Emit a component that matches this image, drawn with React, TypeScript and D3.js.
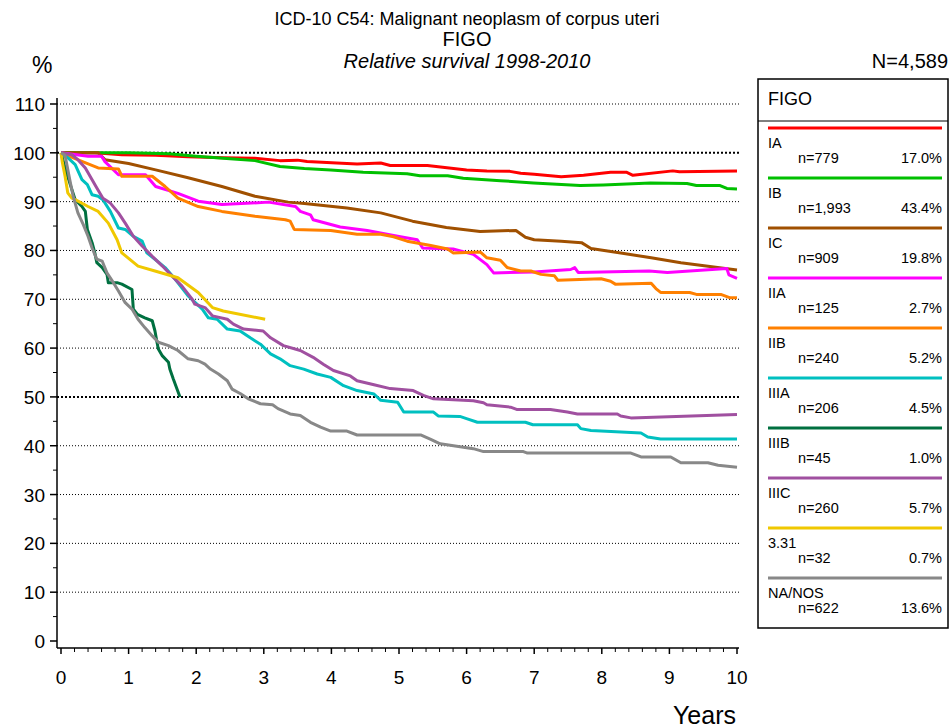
import React from "react";
import * as d3 from "d3";

type Pt = [number, number];

const seriesNames = ["IA", "IB", "IC", "IIA", "IIB", "IIIA", "IIIB", "IIIC", "3.31", "NA/NOS"];
const seriesN = ["n=779", "n=1,993", "n=909", "n=125", "n=240", "n=206", "n=45", "n=260", "n=32", "n=622"];
const seriesPct = ["17.0%", "43.4%", "19.8%", "2.7%", "5.2%", "4.5%", "1.0%", "5.7%", "0.7%", "13.6%"];
const seriesColors = ["#ff0000", "#00c000", "#a05000", "#ff00ff", "#ff8000", "#00c0c0", "#007040", "#a050a0", "#f0c800", "#888888"];

const dataIA: Pt[] = [[0,100],[0.5,100],[0.9,99.6],[1.4,99.5],[1.88,99.2],[2.4,99.0],[2.87,98.9],[3.24,98.4],[3.5,98.5],[3.64,98.2],[4.08,97.9],[4.38,97.7],[4.73,97.9],[4.87,97.4],[5.42,97.4],[6.0,96.5],[6.3,96.3],[6.64,96.2],[6.8,95.8],[7.0,95.6],[7.4,95.1],[7.73,95.4],[8.13,96.0],[8.37,96.0],[8.46,95.4],[9.05,96.3],[9.15,96.1],[10,96.3]];
const dataIB: Pt[] = [[0,100],[1.0,100],[1.6,99.8],[2.0,99.3],[2.5,98.8],[2.87,98.4],[3.24,97.2],[3.6,96.8],[3.99,96.5],[4.47,96.0],[5.12,95.7],[5.31,95.3],[5.72,95.3],[5.95,94.8],[6.5,94.3],[6.99,93.8],[7.68,93.3],[8.02,93.4],[8.72,93.8],[9.26,93.7],[9.4,93.3],[9.75,93.3],[9.85,92.7],[10,92.6]];
const dataIC: Pt[] = [[0,100],[0.55,100],[0.65,98.6],[1.0,97.8],[1.4,96.5],[1.88,94.9],[2.38,93.1],[2.87,91.1],[3.36,89.9],[3.6,89.6],[4.23,88.7],[4.73,87.7],[5.2,86.0],[5.7,84.7],[6.2,83.9],[6.73,84.1],[6.87,82.7],[7.0,82.2],[7.4,81.9],[7.7,81.6],[7.84,80.4],[8.28,79.5],[8.73,78.5],[9.17,77.5],[9.6,76.7],[10,76.0]];
const dataIIA: Pt[] = [[0,100],[0.4,99.3],[0.6,99.3],[0.65,98.2],[0.85,95.5],[1.25,95.5],[1.4,93.1],[1.73,91.7],[2.03,90.1],[2.38,89.4],[3.07,89.9],[3.47,89.0],[3.54,88.0],[3.69,87.3],[3.73,86.3],[4.13,84.8],[4.53,84.1],[4.98,82.9],[5.27,82.2],[5.35,80.5],[5.8,80.3],[6.1,79.2],[6.3,77.1],[6.4,75.4],[7.0,75.6],[7.54,76.1],[7.6,76.5],[7.65,75.5],[8.7,75.8],[8.97,75.5],[9.85,76.3],[9.88,75.0],[10,74.3]];
const dataIIB: Pt[] = [[0,100],[0.3,98.3],[0.55,96.9],[0.85,96.7],[0.9,95.2],[1.35,95.2],[1.54,93.1],[1.73,90.7],[2.03,89.0],[2.38,88.0],[2.87,87.0],[3.32,86.3],[3.39,86.0],[3.45,84.3],[3.99,84.1],[4.38,83.3],[4.73,83.3],[4.92,82.8],[5.12,81.9],[5.47,81.0],[5.72,80.3],[5.8,79.5],[6.2,79.7],[6.3,78.5],[6.5,78.0],[6.6,76.5],[6.8,75.8],[6.95,75.8],[7.1,75.1],[7.3,74.8],[7.35,73.9],[7.99,74.2],[8.13,73.7],[8.2,73.1],[8.73,73.3],[8.8,72.2],[8.87,71.4],[9.3,71.4],[9.4,71.0],[9.76,71.0],[9.9,70.3],[10,70.3]];
const dataIIIA: Pt[] = [[0,100],[0.1,99],[0.21,97.6],[0.31,94.5],[0.39,93.5],[0.46,91.4],[0.55,91.1],[0.62,90.4],[0.73,88.0],[0.85,84.6],[0.95,84.3],[1.07,82.9],[1.2,81.9],[1.27,79.5],[1.39,78.2],[1.54,76.5],[1.69,74.1],[1.88,70.7],[2.09,68.0],[2.18,66.2],[2.31,65.9],[2.46,63.9],[2.65,63.5],[2.8,62.1],[2.95,60.8],[3.1,58.8],[3.24,57.8],[3.39,56.4],[3.59,55.7],[3.79,54.7],[3.99,54.0],[4.18,52.3],[4.38,51.3],[4.63,50.6],[4.73,49.3],[4.98,48.9],[5.07,46.9],[5.51,46.9],[5.58,46.1],[5.9,46.0],[6.01,45.5],[6.16,44.8],[6.87,44.8],[6.98,44.3],[7.64,44.3],[7.69,43.5],[7.84,43.1],[8.58,42.6],[8.68,41.8],[8.87,41.4],[10,41.4]];
const dataIIIB: Pt[] = [[0,100],[0.06,96.9],[0.13,93.8],[0.21,90.4],[0.31,89.0],[0.36,88.0],[0.39,84.3],[0.46,81.6],[0.5,79.5],[0.53,77.5],[0.61,76.5],[0.68,75.1],[0.7,73.4],[0.83,73.4],[0.9,73.1],[1.05,72.0],[1.07,68.0],[1.13,66.9],[1.24,66.2],[1.35,65.6],[1.39,63.5],[1.42,61.2],[1.44,59.8],[1.5,58.4],[1.59,57.1],[1.61,55.7],[1.66,53.7],[1.76,50.0]];
const dataIIIC: Pt[] = [[0,100],[0.16,99.6],[0.25,98.6],[0.36,96.9],[0.46,94.5],[0.53,92.8],[0.62,90.7],[0.73,89.7],[0.85,87.7],[0.95,85.6],[1.07,82.9],[1.2,80.9],[1.35,78.8],[1.5,76.8],[1.64,74.8],[1.79,72.7],[1.94,70.0],[1.98,69.0],[2.13,68.3],[2.24,66.6],[2.46,65.9],[2.55,64.9],[2.7,63.9],[2.99,63.5],[3.1,62.1],[3.29,60.5],[3.54,59.5],[3.73,58.1],[3.88,56.7],[4.03,55.4],[4.28,54.3],[4.38,53.3],[4.63,52.5],[4.87,51.7],[5.21,51.3],[5.36,50.3],[5.51,49.6],[6.1,49.2],[6.25,48.8],[6.3,48.4],[6.65,47.9],[6.75,47.4],[7.24,47.4],[7.49,46.9],[7.64,46.5],[8.23,46.5],[8.28,46.1],[8.43,45.7],[10,46.4]];
const data331: Pt[] = [[0,100],[0.02,98],[0.06,95.2],[0.1,91.8],[0.16,90.7],[0.21,90.4],[0.4,89.0],[0.55,88.0],[0.7,85.6],[0.83,82.2],[0.9,79.5],[1.14,76.8],[1.39,75.8],[1.73,74.4],[2.03,71.4],[2.24,68.3],[2.4,67.6],[3.02,65.9]];
const dataNA: Pt[] = [[0,100],[0.06,99.5],[0.13,94.5],[0.18,91.1],[0.25,87.7],[0.33,85.3],[0.4,82.9],[0.46,80.5],[0.53,78.2],[0.61,77.8],[0.68,75.4],[0.77,73.5],[0.85,71.7],[0.95,69.3],[1.05,68.0],[1.14,65.9],[1.24,64.2],[1.35,62.5],[1.44,61.2],[1.59,60.5],[1.73,59.5],[1.88,57.8],[2.03,57.4],[2.13,56.7],[2.21,55.7],[2.33,54.7],[2.46,53.3],[2.53,51.6],[2.65,50.7],[2.77,49.6],[2.95,48.6],[3.13,48.4],[3.21,47.6],[3.39,46.5],[3.54,46.2],[3.69,44.8],[3.84,43.8],[3.99,43.0],[4.23,43.0],[4.38,42.2],[5.32,42.2],[5.47,41.3],[5.61,40.4],[6.1,39.4],[6.25,38.8],[6.84,38.8],[6.9,38.5],[8.43,38.5],[8.58,37.7],[9.02,37.7],[9.17,36.5],[9.57,36.5],[9.72,36.0],[10,35.6]];

const allSeries: Pt[][] = [dataIA, dataIB, dataIC, dataIIA, dataIIB, dataIIIA, dataIIIB, dataIIIC, data331, dataNA];

const yTicks = [0, 10, 20, 30, 40, 50, 60, 70, 80, 90, 100, 110];
const xTicks = [0, 1, 2, 3, 4, 5, 6, 7, 8, 9, 10];

const titleLine1 = "ICD-10 C54: Malignant neoplasm of corpus uteri";
const titleLine2 = "FIGO";
const titleLine3 = "Relative survival 1998-2010";
const totalN = "N=4,589";
const legendTitle = "FIGO";

const FONT = "'Liberation Sans', Arial, Helvetica, sans-serif";

export default function App() {
  const W = 951, H = 728;
  const x = d3.scaleLinear().domain([0, 10]).range([61, 737]);
  const y = d3.scaleLinear().domain([0, 110]).range([641, 104]);
  const line = d3.line<Pt>().x(d => x(d[0])).y(d => y(d[1]));
  const axisX = 57;
  const axisY = 648;
  const minorY = d3.range(5, 110, 10);
  const minorX = d3.range(0, 10.001, 0.2).filter(v => Math.abs(v - Math.round(v)) > 0.01);

  const legX0 = 758, legX1 = 948, legTop = 79, legBottom = 628, legHeaderBottom = 121;
  const lineX0 = 768, lineX1 = 942;

  return (
    <svg width={W} height={H} style={{ position: "absolute", left: 0, top: 0, background: "#fff" }} fontFamily={FONT}>
      <rect x={0} y={0} width={W} height={H} fill="#fff" />
      {/* Titles */}
      <text x={467} y={25} textAnchor="middle" fontSize={18}>{titleLine1}</text>
      <text x={467} y={46} textAnchor="middle" fontSize={20}>{titleLine2}</text>
      <text x={467} y={68} textAnchor="middle" fontSize={20} fontStyle="italic">{titleLine3}</text>
      <text x={32} y={73} fontSize={23}>%</text>
      <text x={948} y={68} textAnchor="end" fontSize={20}>{totalN}</text>

      {/* Grid lines */}
      {yTicks.filter(t => t > 0).map(t => (
        <line key={"g" + t} x1={axisX} x2={739} y1={y(t)} y2={y(t)} stroke="#000"
          strokeWidth={t === 100 || t === 50 ? 2 : 1}
          strokeDasharray={t === 100 || t === 50 ? "2,2" : "1,2"} />
      ))}

      {/* Y axis */}
      <line x1={axisX} x2={axisX} y1={98} y2={axisY} stroke="#000" strokeWidth={1.5} />
      {yTicks.map(t => (
        <g key={"yt" + t}>
          <line x1={50} x2={axisX} y1={y(t)} y2={y(t)} stroke="#000" strokeWidth={1.5} />
          <text x={45} y={y(t) + 7} textAnchor="end" fontSize={19}>{t}</text>
        </g>
      ))}
      {minorY.map(t => (
        <line key={"ym" + t} x1={53} x2={axisX} y1={y(t)} y2={y(t)} stroke="#000" strokeWidth={1} />
      ))}

      {/* X axis */}
      <line x1={axisX} x2={739} y1={axisY} y2={axisY} stroke="#000" strokeWidth={1.5} />
      {xTicks.map(t => (
        <g key={"xt" + t}>
          <line x1={x(t)} x2={x(t)} y1={axisY} y2={axisY + 6} stroke="#000" strokeWidth={1.5} />
          <text x={x(t)} y={684} textAnchor="middle" fontSize={19}>{t}</text>
        </g>
      ))}
      {minorX.map((t, i) => (
        <line key={"xm" + i} x1={x(t)} x2={x(t)} y1={axisY} y2={axisY + 4} stroke="#000" strokeWidth={1} />
      ))}
      <text x={736} y={724} textAnchor="end" fontSize={25}>Years</text>

      {/* Curves */}
      {allSeries.map((s, i) => (
        <path key={"s" + i} d={line(s) || ""} fill="none" stroke={seriesColors[i]} strokeWidth={3}
          strokeLinejoin="round" strokeLinecap="butt" />
      ))}

      {/* Legend */}
      <rect x={legX0} y={legTop} width={legX1 - legX0} height={legBottom - legTop} fill="#fff" stroke="#000" strokeWidth={1.5} />
      <line x1={legX0} x2={legX1} y1={legHeaderBottom} y2={legHeaderBottom} stroke="#000" strokeWidth={1} />
      <text x={lineX0} y={105} fontSize={18}>{legendTitle}</text>
      {seriesNames.map((nm, i) => {
        const ly = 128 + i * 50;
        return (
          <g key={"l" + i}>
            <line x1={lineX0} x2={lineX1} y1={ly} y2={ly} stroke={seriesColors[i]} strokeWidth={3} />
            <text x={lineX0} y={ly + 20} fontSize={14.5}>{nm}</text>
            <text x={798} y={ly + 35} fontSize={14.5}>{seriesN[i]}</text>
            <text x={lineX1} y={ly + 35} textAnchor="end" fontSize={14.5}>{seriesPct[i]}</text>
          </g>
        );
      })}
    </svg>
  );
}
